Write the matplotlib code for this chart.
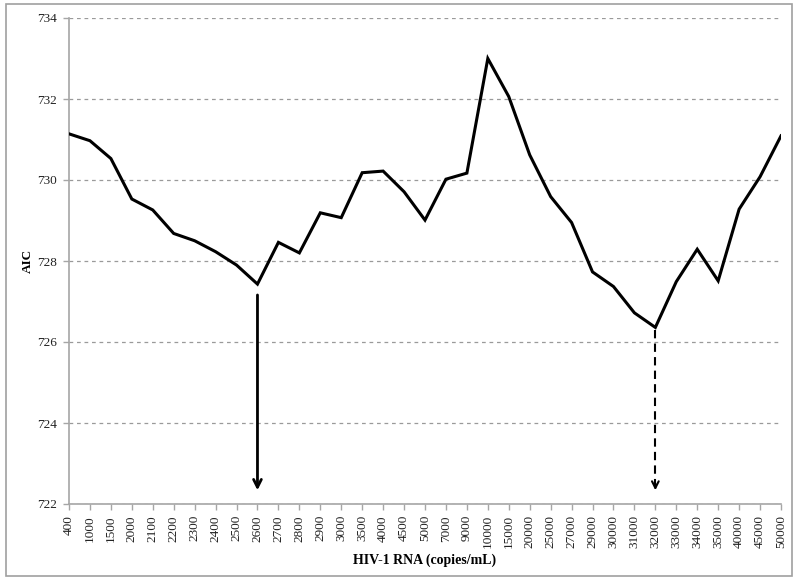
import numpy as np
import matplotlib.pyplot as plt
from matplotlib.patches import Rectangle

plt.rcParams['font.family'] = ['Liberation Serif', 'DejaVu Serif']

# data
categories = ["400", "1000", "1500", "2000", "2100", "2200", "2300", "2400", "2500",
              "2600", "2700", "2800", "2900", "3000", "3500", "4000", "4500", "5000",
              "7000", "9000", "10000", "15000", "20000", "25000", "27000", "29000",
              "30000", "31000", "32000", "33000", "34000", "35000", "40000", "45000",
              "50000"]
aic = [731.14, 730.97, 730.53, 729.53, 729.26, 728.68, 728.50, 728.23, 727.90,
       727.43, 728.46, 728.20, 729.19, 729.07, 730.18, 730.22, 729.71, 729.01,
       730.02, 730.17, 733.00, 732.06, 730.62, 729.59, 728.95, 727.73,
       727.37, 726.72, 726.36, 727.49, 728.29, 727.51, 729.28, 730.08,
       731.09]
y_ticks = [722, 724, 726, 728, 730, 732, 734]

# arrows: (category, start value, end value)
arrow_solid = ("2600", 727.23, 722.27)
arrow_dashed = ("32000", 726.3, 722.27)

fig = plt.figure(figsize=(8, 5.84), dpi=100)
ax = fig.add_axes([69 / 800, 1 - 504 / 584, (781 - 69) / 800, (504 - 18) / 584])

x = np.arange(len(categories))
ax.plot(x, aic, color="black", linewidth=2.2, solid_joinstyle="miter", zorder=3)

ax.set_xlim(0, len(categories) - 1)
ax.set_ylim(722, 734)
ax.set_yticks(y_ticks)
ax.set_yticklabels([str(v) for v in y_ticks], fontsize=9.5, color="#222222")
ax.set_xticks(x)
ax.set_xticklabels(categories, rotation=90, fontsize=9.5, color="#222222")

ax.grid(axis="y", linestyle=(0, (3, 3)), color="#9a9a9a", linewidth=0.9)
ax.set_axisbelow(True)
for side in ["top", "right"]:
    ax.spines[side].set_visible(False)
for side in ["left", "bottom"]:
    ax.spines[side].set_color("#a6a6a6")
    ax.spines[side].set_linewidth(1.2)
ax.tick_params(axis="both", direction="out", color="#a6a6a6", length=4, width=1)
ax.tick_params(axis="x", pad=4)
ax.tick_params(axis="y", pad=5)

ax.set_ylabel("AIC", fontsize=9.5, fontweight="bold", labelpad=2)
ax.set_xlabel("HIV-1 RNA (copies/mL)", fontsize=10, fontweight="bold", labelpad=4)

# solid arrow
xs = categories.index(arrow_solid[0])
ax.annotate("", xy=(xs, arrow_solid[2]), xytext=(xs, arrow_solid[1]),
            arrowprops=dict(arrowstyle="->", color="black", lw=2, mutation_scale=14))

# dashed arrow: dashed shaft + solid head
xd = categories.index(arrow_dashed[0])
ax.plot([xd, xd], [arrow_dashed[1], arrow_dashed[2] + 0.05], color="black", lw=1.5,
        linestyle=(0, (4, 2.5)))
ax.annotate("", xy=(xd, arrow_dashed[2]), xytext=(xd, arrow_dashed[2] + 0.3),
            arrowprops=dict(arrowstyle="->", color="black", lw=1.5, mutation_scale=12))

fig.patches.append(Rectangle((6 / 800, 8 / 584), 786 / 800, 572 / 584, transform=fig.transFigure,
                             fill=False, edgecolor="#a0a0a0", linewidth=1.2))

fig.savefig("out.png", dpi=100)
